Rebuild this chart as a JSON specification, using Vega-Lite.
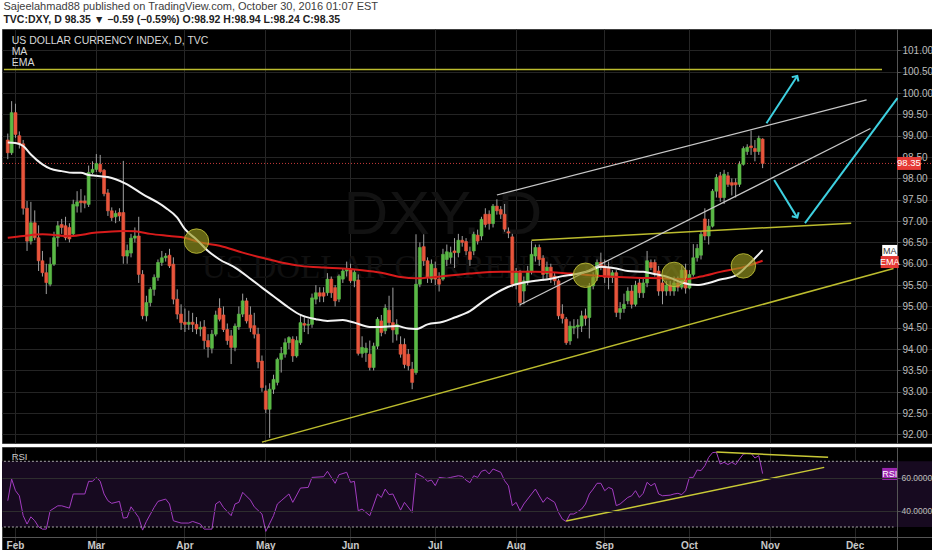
{
"$schema": "https://vega.github.io/schema/vega-lite/v6.json",
"background": "#ffffff",
"padding": {"left": 0, "top": 1, "right": 0, "bottom": 0},
"title": {"text": "Sajeelahmad88 published on TradingView.com, October 30, 2016 01:07 EST", "subtitle": "TVC:DXY, D  98.35 \u25bc \u22120.59 (\u22120.59%)  O:98.92  H:98.94  L:98.24  C:98.35", "anchor": "start", "dx": 3, "fontSize": 11, "fontWeight": "normal", "font": "Liberation Sans", "color": "#3d3d3d", "subtitleFontSize": 10.5, "subtitleFont": "Liberation Sans", "subtitleFontWeight": "bold", "subtitleColor": "#222222", "subtitlePadding": 3, "offset": 3},
"spacing": 0,
"datasets": {
"one": [{}],
"candles": [
{"date":"2016-01-28","open":98.90,"high":99.05,"low":98.45,"close":98.60},
{"date":"2016-01-29","open":98.60,"high":99.81,"low":98.55,"close":99.54},
{"date":"2016-02-01","open":99.54,"high":99.75,"low":98.95,"close":99.03},
{"date":"2016-02-02","open":99.00,"high":99.10,"low":98.70,"close":98.81},
{"date":"2016-02-03","open":98.81,"high":98.90,"low":97.15,"close":97.30},
{"date":"2016-02-04","open":97.30,"high":97.47,"low":96.30,"close":96.53},
{"date":"2016-02-05","open":96.53,"high":97.45,"low":96.45,"close":96.96},
{"date":"2016-02-08","open":96.96,"high":97.25,"low":96.55,"close":96.61},
{"date":"2016-02-09","open":96.61,"high":96.90,"low":95.83,"close":96.07},
{"date":"2016-02-10","open":96.07,"high":96.30,"low":95.70,"close":95.79},
{"date":"2016-02-11","open":95.79,"high":96.00,"low":95.29,"close":95.56},
{"date":"2016-02-12","open":95.52,"high":96.15,"low":95.47,"close":95.99},
{"date":"2016-02-15","open":95.99,"high":96.75,"low":95.95,"close":96.61},
{"date":"2016-02-16","open":96.61,"high":97.00,"low":96.40,"close":96.89},
{"date":"2016-02-17","open":96.92,"high":97.05,"low":96.70,"close":96.85},
{"date":"2016-02-18","open":96.89,"high":97.10,"low":96.55,"close":96.61},
{"date":"2016-02-19","open":96.85,"high":96.95,"low":96.50,"close":96.58},
{"date":"2016-02-22","open":96.70,"high":97.50,"low":96.65,"close":97.39},
{"date":"2016-02-23","open":97.35,"high":97.70,"low":97.20,"close":97.45},
{"date":"2016-02-24","open":97.47,"high":97.75,"low":97.20,"close":97.43},
{"date":"2016-02-25","open":97.47,"high":97.60,"low":97.30,"close":97.42},
{"date":"2016-02-26","open":97.39,"high":98.30,"low":97.33,"close":98.14},
{"date":"2016-02-29","open":98.14,"high":98.40,"low":98.10,"close":98.21},
{"date":"2016-03-01","open":98.21,"high":98.57,"low":98.15,"close":98.35},
{"date":"2016-03-02","open":98.33,"high":98.55,"low":98.12,"close":98.16},
{"date":"2016-03-03","open":98.19,"high":98.22,"low":97.58,"close":97.64},
{"date":"2016-03-04","open":97.66,"high":97.75,"low":97.12,"close":97.24},
{"date":"2016-03-07","open":97.24,"high":97.32,"low":97.00,"close":97.08},
{"date":"2016-03-08","open":97.10,"high":97.25,"low":96.95,"close":97.18},
{"date":"2016-03-09","open":97.20,"high":97.30,"low":97.00,"close":97.12},
{"date":"2016-03-10","open":97.20,"high":98.41,"low":96.00,"close":96.18},
{"date":"2016-03-11","open":96.18,"high":96.45,"low":96.00,"close":96.31},
{"date":"2016-03-14","open":96.25,"high":96.70,"low":96.15,"close":96.60},
{"date":"2016-03-15","open":96.60,"high":96.85,"low":96.50,"close":96.65},
{"date":"2016-03-16","open":96.65,"high":97.10,"low":95.55,"close":95.75},
{"date":"2016-03-17","open":95.75,"high":95.85,"low":94.70,"close":94.78},
{"date":"2016-03-18","open":94.78,"high":95.25,"low":94.65,"close":95.09},
{"date":"2016-03-21","open":95.09,"high":95.45,"low":95.00,"close":95.40},
{"date":"2016-03-22","open":95.40,"high":95.75,"low":95.25,"close":95.68},
{"date":"2016-03-23","open":95.68,"high":96.10,"low":95.60,"close":96.03},
{"date":"2016-03-24","open":96.03,"high":96.30,"low":95.95,"close":96.14},
{"date":"2016-03-25","open":96.14,"high":96.25,"low":96.05,"close":96.18},
{"date":"2016-03-28","open":96.20,"high":96.35,"low":95.90,"close":95.95},
{"date":"2016-03-29","open":95.99,"high":96.15,"low":95.05,"close":95.17},
{"date":"2016-03-30","open":95.17,"high":95.40,"low":94.70,"close":94.82},
{"date":"2016-03-31","open":94.82,"high":95.05,"low":94.45,"close":94.62},
{"date":"2016-04-01","open":94.63,"high":94.95,"low":94.40,"close":94.58},
{"date":"2016-04-04","open":94.58,"high":94.90,"low":94.45,"close":94.63},
{"date":"2016-04-05","open":94.63,"high":94.85,"low":94.40,"close":94.58},
{"date":"2016-04-06","open":94.58,"high":94.75,"low":94.35,"close":94.47},
{"date":"2016-04-07","open":94.47,"high":94.65,"low":94.30,"close":94.51},
{"date":"2016-04-08","open":94.52,"high":94.68,"low":94.00,"close":94.20},
{"date":"2016-04-11","open":94.20,"high":94.35,"low":93.80,"close":94.05},
{"date":"2016-04-12","open":94.02,"high":94.45,"low":93.90,"close":94.35},
{"date":"2016-04-13","open":94.35,"high":94.90,"low":94.30,"close":94.80},
{"date":"2016-04-14","open":94.96,"high":95.19,"low":94.65,"close":94.70},
{"date":"2016-04-15","open":94.80,"high":95.00,"low":94.40,"close":94.46},
{"date":"2016-04-18","open":94.46,"high":94.60,"low":94.10,"close":94.20},
{"date":"2016-04-19","open":94.31,"high":94.45,"low":93.65,"close":94.04},
{"date":"2016-04-20","open":94.04,"high":94.60,"low":93.95,"close":94.54},
{"date":"2016-04-21","open":94.52,"high":95.00,"low":94.45,"close":94.82},
{"date":"2016-04-22","open":94.82,"high":95.30,"low":94.75,"close":95.13},
{"date":"2016-04-25","open":95.13,"high":95.20,"low":94.60,"close":94.66},
{"date":"2016-04-26","open":94.80,"high":95.00,"low":94.40,"close":94.50},
{"date":"2016-04-27","open":94.55,"high":94.85,"low":94.25,"close":94.35},
{"date":"2016-04-28","open":94.35,"high":94.50,"low":93.55,"close":93.70},
{"date":"2016-04-29","open":93.72,"high":93.85,"low":93.00,"close":93.10},
{"date":"2016-05-02","open":93.02,"high":93.15,"low":92.50,"close":92.59},
{"date":"2016-05-03","open":92.59,"high":93.20,"low":91.92,"close":93.06},
{"date":"2016-05-04","open":93.06,"high":93.40,"low":92.95,"close":93.29},
{"date":"2016-05-05","open":93.22,"high":93.80,"low":93.15,"close":93.76},
{"date":"2016-05-06","open":93.76,"high":94.05,"low":93.45,"close":93.90},
{"date":"2016-05-09","open":93.88,"high":94.25,"low":93.80,"close":94.15},
{"date":"2016-05-10","open":94.15,"high":94.30,"low":94.00,"close":94.27},
{"date":"2016-05-11","open":94.23,"high":94.30,"low":93.70,"close":93.84},
{"date":"2016-05-12","open":93.84,"high":94.30,"low":93.80,"close":94.20},
{"date":"2016-05-13","open":94.15,"high":94.80,"low":94.10,"close":94.62},
{"date":"2016-05-16","open":94.60,"high":94.75,"low":94.40,"close":94.56},
{"date":"2016-05-17","open":94.56,"high":94.70,"low":94.35,"close":94.58},
{"date":"2016-05-18","open":94.58,"high":95.30,"low":94.50,"close":95.20},
{"date":"2016-05-19","open":95.17,"high":95.50,"low":95.05,"close":95.32},
{"date":"2016-05-20","open":95.32,"high":95.45,"low":95.10,"close":95.24},
{"date":"2016-05-23","open":95.32,"high":95.45,"low":95.10,"close":95.24},
{"date":"2016-05-24","open":95.32,"high":95.78,"low":95.25,"close":95.64},
{"date":"2016-05-25","open":95.64,"high":95.70,"low":95.20,"close":95.32},
{"date":"2016-05-26","open":95.44,"high":95.50,"low":95.00,"close":95.13},
{"date":"2016-05-27","open":95.17,"high":95.75,"low":95.10,"close":95.71},
{"date":"2016-05-30","open":95.64,"high":95.90,"low":95.55,"close":95.83},
{"date":"2016-05-31","open":95.83,"high":96.05,"low":95.70,"close":95.87},
{"date":"2016-06-01","open":95.87,"high":96.00,"low":95.55,"close":95.60},
{"date":"2016-06-02","open":95.60,"high":95.85,"low":95.45,"close":95.80},
{"date":"2016-06-03","open":95.62,"high":95.75,"low":93.85,"close":93.90},
{"date":"2016-06-06","open":93.90,"high":94.30,"low":93.80,"close":94.04},
{"date":"2016-06-07","open":93.92,"high":94.15,"low":93.70,"close":94.02},
{"date":"2016-06-08","open":93.88,"high":94.20,"low":93.50,"close":93.57},
{"date":"2016-06-09","open":93.57,"high":94.15,"low":93.50,"close":94.07},
{"date":"2016-06-10","open":94.07,"high":94.75,"low":94.00,"close":94.70},
{"date":"2016-06-13","open":94.66,"high":94.80,"low":94.30,"close":94.39},
{"date":"2016-06-14","open":94.43,"high":95.05,"low":94.35,"close":94.96},
{"date":"2016-06-15","open":94.91,"high":95.25,"low":94.55,"close":94.62},
{"date":"2016-06-16","open":94.62,"high":95.44,"low":94.15,"close":94.45},
{"date":"2016-06-17","open":94.35,"high":94.70,"low":94.20,"close":94.58},
{"date":"2016-06-20","open":94.11,"high":94.30,"low":93.80,"close":93.88},
{"date":"2016-06-21","open":94.11,"high":94.25,"low":93.55,"close":93.64},
{"date":"2016-06-22","open":93.88,"high":94.00,"low":93.50,"close":93.61},
{"date":"2016-06-23","open":93.53,"high":93.70,"low":93.06,"close":93.22},
{"date":"2016-06-24","open":93.45,"high":96.69,"low":93.40,"close":95.52},
{"date":"2016-06-27","open":95.52,"high":96.50,"low":95.45,"close":96.38},
{"date":"2016-06-28","open":96.40,"high":96.69,"low":95.95,"close":96.07},
{"date":"2016-06-29","open":96.07,"high":96.15,"low":95.55,"close":95.68},
{"date":"2016-06-30","open":95.64,"high":96.10,"low":95.55,"close":95.99},
{"date":"2016-07-01","open":95.89,"high":96.05,"low":95.50,"close":95.64},
{"date":"2016-07-04","open":95.64,"high":95.80,"low":95.35,"close":95.52},
{"date":"2016-07-05","open":95.64,"high":96.35,"low":95.60,"close":96.22},
{"date":"2016-07-06","open":96.10,"high":96.45,"low":95.95,"close":96.28},
{"date":"2016-07-07","open":96.15,"high":96.40,"low":96.00,"close":96.26},
{"date":"2016-07-08","open":96.30,"high":96.60,"low":95.90,"close":96.26},
{"date":"2016-07-11","open":96.26,"high":96.70,"low":96.15,"close":96.55},
{"date":"2016-07-12","open":96.55,"high":96.65,"low":96.40,"close":96.50},
{"date":"2016-07-13","open":96.52,"high":96.60,"low":96.20,"close":96.30},
{"date":"2016-07-14","open":96.28,"high":96.40,"low":95.95,"close":96.10},
{"date":"2016-07-15","open":96.30,"high":96.75,"low":96.20,"close":96.69},
{"date":"2016-07-18","open":96.67,"high":96.80,"low":96.45,"close":96.53},
{"date":"2016-07-19","open":96.65,"high":97.10,"low":96.55,"close":97.04},
{"date":"2016-07-20","open":97.16,"high":97.30,"low":96.85,"close":96.92},
{"date":"2016-07-21","open":97.16,"high":97.25,"low":96.80,"close":96.94},
{"date":"2016-07-22","open":96.94,"high":97.40,"low":96.85,"close":97.35},
{"date":"2016-07-25","open":97.35,"high":97.51,"low":97.15,"close":97.24},
{"date":"2016-07-26","open":97.27,"high":97.35,"low":97.05,"close":97.16},
{"date":"2016-07-27","open":97.16,"high":97.40,"low":96.75,"close":96.81},
{"date":"2016-07-28","open":96.75,"high":96.85,"low":96.60,"close":96.72},
{"date":"2016-07-29","open":96.63,"high":96.70,"low":95.45,"close":95.52},
{"date":"2016-08-01","open":95.52,"high":95.90,"low":95.40,"close":95.79},
{"date":"2016-08-02","open":95.79,"high":95.85,"low":95.00,"close":95.09},
{"date":"2016-08-03","open":95.36,"high":95.70,"low":95.05,"close":95.60},
{"date":"2016-08-04","open":95.60,"high":95.95,"low":95.50,"close":95.83},
{"date":"2016-08-05","open":95.83,"high":96.53,"low":95.75,"close":96.22},
{"date":"2016-08-08","open":96.18,"high":96.45,"low":96.05,"close":96.38},
{"date":"2016-08-09","open":96.38,"high":96.45,"low":95.95,"close":96.10},
{"date":"2016-08-10","open":96.13,"high":96.20,"low":95.60,"close":95.75},
{"date":"2016-08-11","open":95.77,"high":96.05,"low":95.65,"close":95.92},
{"date":"2016-08-12","open":95.92,"high":96.00,"low":95.55,"close":95.68},
{"date":"2016-08-15","open":95.71,"high":95.80,"low":95.50,"close":95.60},
{"date":"2016-08-16","open":95.60,"high":95.65,"low":94.70,"close":94.78},
{"date":"2016-08-17","open":94.82,"high":95.05,"low":94.60,"close":94.72},
{"date":"2016-08-18","open":94.70,"high":94.75,"low":94.10,"close":94.15},
{"date":"2016-08-19","open":94.19,"high":94.65,"low":94.10,"close":94.54},
{"date":"2016-08-22","open":94.50,"high":94.70,"low":94.35,"close":94.53},
{"date":"2016-08-23","open":94.52,"high":94.70,"low":94.25,"close":94.56},
{"date":"2016-08-24","open":94.54,"high":94.90,"low":94.40,"close":94.78},
{"date":"2016-08-25","open":94.78,"high":94.95,"low":94.55,"close":94.72},
{"date":"2016-08-26","open":94.74,"high":95.55,"low":94.25,"close":95.48},
{"date":"2016-08-29","open":95.48,"high":95.80,"low":95.40,"close":95.68},
{"date":"2016-08-30","open":95.68,"high":96.10,"low":95.60,"close":96.03},
{"date":"2016-08-31","open":96.03,"high":96.26,"low":95.85,"close":95.91},
{"date":"2016-09-01","open":95.95,"high":96.10,"low":95.55,"close":95.68},
{"date":"2016-09-02","open":95.91,"high":96.05,"low":95.40,"close":95.68},
{"date":"2016-09-05","open":95.68,"high":95.85,"low":95.55,"close":95.79},
{"date":"2016-09-06","open":95.79,"high":95.85,"low":94.75,"close":94.86},
{"date":"2016-09-07","open":94.86,"high":95.10,"low":94.70,"close":94.95},
{"date":"2016-09-08","open":94.95,"high":95.30,"low":94.85,"close":95.05},
{"date":"2016-09-09","open":95.13,"high":95.45,"low":95.05,"close":95.36},
{"date":"2016-09-12","open":95.36,"high":95.50,"low":94.95,"close":95.05},
{"date":"2016-09-13","open":95.05,"high":95.60,"low":95.00,"close":95.50},
{"date":"2016-09-14","open":95.55,"high":95.65,"low":95.20,"close":95.32},
{"date":"2016-09-15","open":95.32,"high":95.65,"low":95.20,"close":95.55},
{"date":"2016-09-16","open":95.55,"high":96.30,"low":95.45,"close":96.07},
{"date":"2016-09-19","open":96.03,"high":96.10,"low":95.85,"close":95.91},
{"date":"2016-09-20","open":96.03,"high":96.10,"low":95.70,"close":95.79},
{"date":"2016-09-21","open":95.83,"high":95.95,"low":95.25,"close":95.36},
{"date":"2016-09-22","open":95.55,"high":95.65,"low":95.05,"close":95.36},
{"date":"2016-09-23","open":95.36,"high":95.60,"low":95.25,"close":95.50},
{"date":"2016-09-26","open":95.50,"high":95.60,"low":95.25,"close":95.36},
{"date":"2016-09-27","open":95.36,"high":95.70,"low":95.25,"close":95.55},
{"date":"2016-09-28","open":95.55,"high":95.70,"low":95.35,"close":95.45},
{"date":"2016-09-29","open":95.45,"high":95.95,"low":95.40,"close":95.85},
{"date":"2016-09-30","open":95.85,"high":96.00,"low":95.30,"close":95.43},
{"date":"2016-10-03","open":95.43,"high":95.85,"low":95.40,"close":95.75},
{"date":"2016-10-04","open":95.75,"high":96.46,"low":95.70,"close":96.14},
{"date":"2016-10-05","open":96.14,"high":96.46,"low":96.05,"close":96.36},
{"date":"2016-10-06","open":96.20,"high":96.75,"low":96.10,"close":96.69},
{"date":"2016-10-07","open":97.05,"high":97.30,"low":96.55,"close":96.65},
{"date":"2016-10-10","open":96.65,"high":97.05,"low":96.45,"close":96.88},
{"date":"2016-10-11","open":96.88,"high":97.75,"low":96.85,"close":97.70},
{"date":"2016-10-12","open":97.70,"high":98.10,"low":97.55,"close":98.02},
{"date":"2016-10-13","open":98.06,"high":98.15,"low":97.45,"close":97.55},
{"date":"2016-10-14","open":97.55,"high":98.20,"low":97.40,"close":98.10},
{"date":"2016-10-17","open":98.06,"high":98.15,"low":97.80,"close":97.86},
{"date":"2016-10-18","open":97.90,"high":98.00,"low":97.60,"close":97.84},
{"date":"2016-10-19","open":97.90,"high":98.00,"low":97.55,"close":97.85},
{"date":"2016-10-20","open":97.86,"high":98.40,"low":97.80,"close":98.33},
{"date":"2016-10-21","open":98.33,"high":98.75,"low":98.30,"close":98.70},
{"date":"2016-10-24","open":98.63,"high":98.80,"low":98.55,"close":98.73},
{"date":"2016-10-25","open":98.76,"high":99.12,"low":98.55,"close":98.72},
{"date":"2016-10-26","open":98.70,"high":98.90,"low":98.40,"close":98.63},
{"date":"2016-10-27","open":98.63,"high":99.00,"low":98.55,"close":98.94},
{"date":"2016-10-28","open":98.92,"high":98.94,"low":98.24,"close":98.35}
],
"ma": [
{"date":"2016-01-28","ma":98.84},{"date":"2016-02-01","ma":98.83},{"date":"2016-02-03","ma":98.76},{"date":"2016-02-05","ma":98.56},{"date":"2016-02-10","ma":98.33},{"date":"2016-02-12","ma":98.23},{"date":"2016-02-17","ma":98.17},{"date":"2016-02-22","ma":98.13},{"date":"2016-02-24","ma":98.13},{"date":"2016-02-26","ma":98.08},{"date":"2016-03-01","ma":98.06},{"date":"2016-03-04","ma":98.03},{"date":"2016-03-08","ma":97.98},{"date":"2016-03-11","ma":97.86},{"date":"2016-03-17","ma":97.63},{"date":"2016-03-23","ma":97.43},{"date":"2016-03-25","ma":97.31},{"date":"2016-03-30","ma":97.08},{"date":"2016-04-01","ma":96.81},{"date":"2016-04-06","ma":96.57},{"date":"2016-04-11","ma":96.30},{"date":"2016-04-14","ma":96.10},{"date":"2016-04-20","ma":95.91},{"date":"2016-04-26","ma":95.65},{"date":"2016-04-29","ma":95.44},{"date":"2016-05-04","ma":95.24},{"date":"2016-05-10","ma":94.97},{"date":"2016-05-13","ma":94.80},{"date":"2016-05-19","ma":94.70},{"date":"2016-05-24","ma":94.66},{"date":"2016-05-30","ma":94.68},{"date":"2016-06-02","ma":94.62},{"date":"2016-06-08","ma":94.52},{"date":"2016-06-13","ma":94.52},{"date":"2016-06-17","ma":94.54},{"date":"2016-06-22","ma":94.48},{"date":"2016-06-24","ma":94.47},{"date":"2016-06-29","ma":94.58},{"date":"2016-07-05","ma":94.64},{"date":"2016-07-08","ma":94.74},{"date":"2016-07-14","ma":94.89},{"date":"2016-07-19","ma":95.09},{"date":"2016-07-22","ma":95.27},{"date":"2016-07-28","ma":95.46},{"date":"2016-08-03","ma":95.56},{"date":"2016-08-08","ma":95.60},{"date":"2016-08-12","ma":95.65},{"date":"2016-08-17","ma":95.71},{"date":"2016-08-22","ma":95.75},{"date":"2016-08-26","ma":95.83},{"date":"2016-08-31","ma":95.93},{"date":"2016-09-06","ma":95.89},{"date":"2016-09-09","ma":95.83},{"date":"2016-09-15","ma":95.81},{"date":"2016-09-20","ma":95.76},{"date":"2016-09-26","ma":95.67},{"date":"2016-09-29","ma":95.56},{"date":"2016-10-05","ma":95.50},{"date":"2016-10-10","ma":95.55},{"date":"2016-10-13","ma":95.63},{"date":"2016-10-19","ma":95.72},{"date":"2016-10-24","ma":95.95},{"date":"2016-10-28","ma":96.32}
],
"ema": [
{"date":"2016-01-28","ema":96.61},{"date":"2016-02-03","ema":96.65},{"date":"2016-02-10","ema":96.69},{"date":"2016-02-19","ema":96.65},{"date":"2016-03-01","ema":96.73},{"date":"2016-03-10","ema":96.77},{"date":"2016-03-15","ema":96.76},{"date":"2016-03-21","ema":96.70},{"date":"2016-03-28","ema":96.65},{"date":"2016-04-01","ema":96.61},{"date":"2016-04-07","ema":96.50},{"date":"2016-04-14","ema":96.42},{"date":"2016-04-22","ema":96.26},{"date":"2016-04-29","ema":96.14},{"date":"2016-05-06","ema":96.03},{"date":"2016-05-13","ema":95.95},{"date":"2016-05-23","ema":95.91},{"date":"2016-05-30","ema":95.89},{"date":"2016-06-06","ema":95.85},{"date":"2016-06-13","ema":95.79},{"date":"2016-06-20","ema":95.69},{"date":"2016-06-24","ema":95.66},{"date":"2016-07-01","ema":95.69},{"date":"2016-07-14","ema":95.77},{"date":"2016-07-26","ema":95.81},{"date":"2016-08-08","ema":95.81},{"date":"2016-08-19","ema":95.77},{"date":"2016-08-31","ema":95.71},{"date":"2016-09-13","ema":95.67},{"date":"2016-09-22","ema":95.66},{"date":"2016-09-30","ema":95.64},{"date":"2016-10-06","ema":95.70},{"date":"2016-10-13","ema":95.81},{"date":"2016-10-21","ema":95.92},{"date":"2016-10-28","ema":96.07}
],
"rsi": [
{"date":"2016-01-28","rsi":46.0},{"date":"2016-01-29","rsi":59.2},{"date":"2016-02-01","rsi":52.1},{"date":"2016-02-02","rsi":49.0},{"date":"2016-02-03","rsi":36.9},{"date":"2016-02-04","rsi":31.8},{"date":"2016-02-05","rsi":36.2},{"date":"2016-02-08","rsi":33.8},{"date":"2016-02-09","rsi":30.1},{"date":"2016-02-10","rsi":28.7},{"date":"2016-02-11","rsi":28.7},{"date":"2016-02-12","rsi":39.9},{"date":"2016-02-16","rsi":42.9},{"date":"2016-02-17","rsi":42.9},{"date":"2016-02-19","rsi":41.5},{"date":"2016-02-22","rsi":50.1},{"date":"2016-02-25","rsi":50.1},{"date":"2016-02-26","rsi":57.8},{"date":"2016-02-29","rsi":57.8},{"date":"2016-03-01","rsi":60.2},{"date":"2016-03-02","rsi":57.8},{"date":"2016-03-03","rsi":50.1},{"date":"2016-03-04","rsi":46.0},{"date":"2016-03-07","rsi":44.4},{"date":"2016-03-09","rsi":45.6},{"date":"2016-03-10","rsi":35.4},{"date":"2016-03-11","rsi":35.8},{"date":"2016-03-14","rsi":42.3},{"date":"2016-03-16","rsi":35.8},{"date":"2016-03-17","rsi":28.1},{"date":"2016-03-18","rsi":33.4},{"date":"2016-03-22","rsi":41.9},{"date":"2016-03-23","rsi":45.6},{"date":"2016-03-25","rsi":47.0},{"date":"2016-03-28","rsi":44.0},{"date":"2016-03-29","rsi":33.8},{"date":"2016-03-31","rsi":32.4},{"date":"2016-04-04","rsi":32.4},{"date":"2016-04-05","rsi":33.4},{"date":"2016-04-07","rsi":31.8},{"date":"2016-04-08","rsi":28.7},{"date":"2016-04-12","rsi":28.7},{"date":"2016-04-13","rsi":44.0},{"date":"2016-04-14","rsi":45.6},{"date":"2016-04-15","rsi":41.9},{"date":"2016-04-19","rsi":36.9},{"date":"2016-04-20","rsi":44.0},{"date":"2016-04-21","rsi":45.0},{"date":"2016-04-22","rsi":51.1},{"date":"2016-04-26","rsi":46.4},{"date":"2016-04-27","rsi":42.3},{"date":"2016-04-29","rsi":37.9},{"date":"2016-05-02","rsi":27.3},{"date":"2016-05-04","rsi":36.9},{"date":"2016-05-05","rsi":44.0},{"date":"2016-05-06","rsi":46.0},{"date":"2016-05-10","rsi":50.1},{"date":"2016-05-11","rsi":45.0},{"date":"2016-05-13","rsi":53.7},{"date":"2016-05-17","rsi":54.1},{"date":"2016-05-18","rsi":60.2},{"date":"2016-05-23","rsi":60.6},{"date":"2016-05-24","rsi":63.9},{"date":"2016-05-26","rsi":56.6},{"date":"2016-05-27","rsi":61.8},{"date":"2016-05-31","rsi":63.3},{"date":"2016-06-01","rsi":57.2},{"date":"2016-06-02","rsi":57.8},{"date":"2016-06-03","rsi":39.9},{"date":"2016-06-06","rsi":40.9},{"date":"2016-06-08","rsi":36.9},{"date":"2016-06-10","rsi":50.1},{"date":"2016-06-13","rsi":48.0},{"date":"2016-06-14","rsi":53.1},{"date":"2016-06-15","rsi":49.7},{"date":"2016-06-16","rsi":50.1},{"date":"2016-06-20","rsi":40.3},{"date":"2016-06-21","rsi":45.0},{"date":"2016-06-23","rsi":38.9},{"date":"2016-06-24","rsi":62.7},{"date":"2016-06-28","rsi":60.2},{"date":"2016-06-29","rsi":57.8},{"date":"2016-06-30","rsi":58.6},{"date":"2016-07-01","rsi":55.2},{"date":"2016-07-04","rsi":60.2},{"date":"2016-07-06","rsi":59.6},{"date":"2016-07-07","rsi":60.2},{"date":"2016-07-11","rsi":61.2},{"date":"2016-07-12","rsi":60.8},{"date":"2016-07-13","rsi":58.5},{"date":"2016-07-14","rsi":57.0},{"date":"2016-07-15","rsi":61.2},{"date":"2016-07-18","rsi":60.2},{"date":"2016-07-19","rsi":63.9},{"date":"2016-07-20","rsi":64.7},{"date":"2016-07-21","rsi":62.3},{"date":"2016-07-22","rsi":65.3},{"date":"2016-07-26","rsi":63.3},{"date":"2016-07-27","rsi":58.2},{"date":"2016-07-28","rsi":55.1},{"date":"2016-07-29","rsi":43.0},{"date":"2016-08-01","rsi":45.0},{"date":"2016-08-02","rsi":39.9},{"date":"2016-08-03","rsi":44.0},{"date":"2016-08-05","rsi":50.1},{"date":"2016-08-08","rsi":53.1},{"date":"2016-08-09","rsi":49.0},{"date":"2016-08-10","rsi":45.0},{"date":"2016-08-11","rsi":48.0},{"date":"2016-08-15","rsi":45.0},{"date":"2016-08-16","rsi":38.9},{"date":"2016-08-17","rsi":34.8},{"date":"2016-08-18","rsi":33.4},{"date":"2016-08-19","rsi":37.9},{"date":"2016-08-22","rsi":37.9},{"date":"2016-08-24","rsi":40.9},{"date":"2016-08-25","rsi":44.0},{"date":"2016-08-26","rsi":50.1},{"date":"2016-08-29","rsi":53.1},{"date":"2016-08-30","rsi":56.6},{"date":"2016-08-31","rsi":56.6},{"date":"2016-09-01","rsi":52.1},{"date":"2016-09-02","rsi":54.1},{"date":"2016-09-05","rsi":53.1},{"date":"2016-09-06","rsi":43.0},{"date":"2016-09-07","rsi":44.0},{"date":"2016-09-09","rsi":48.0},{"date":"2016-09-12","rsi":49.0},{"date":"2016-09-13","rsi":52.1},{"date":"2016-09-14","rsi":48.0},{"date":"2016-09-15","rsi":50.5},{"date":"2016-09-16","rsi":57.2},{"date":"2016-09-19","rsi":55.1},{"date":"2016-09-20","rsi":56.6},{"date":"2016-09-21","rsi":50.1},{"date":"2016-09-22","rsi":49.0},{"date":"2016-09-26","rsi":49.4},{"date":"2016-09-27","rsi":50.1},{"date":"2016-09-28","rsi":50.5},{"date":"2016-09-29","rsi":49.7},{"date":"2016-09-30","rsi":52.1},{"date":"2016-10-03","rsi":60.2},{"date":"2016-10-04","rsi":60.2},{"date":"2016-10-05","rsi":64.7},{"date":"2016-10-06","rsi":64.3},{"date":"2016-10-07","rsi":67.3},{"date":"2016-10-10","rsi":72.4},{"date":"2016-10-11","rsi":75.3},{"date":"2016-10-12","rsi":75.5},{"date":"2016-10-13","rsi":68.3},{"date":"2016-10-14","rsi":69.4},{"date":"2016-10-17","rsi":68.0},{"date":"2016-10-18","rsi":69.4},{"date":"2016-10-19","rsi":68.0},{"date":"2016-10-20","rsi":71.4},{"date":"2016-10-21","rsi":74.4},{"date":"2016-10-24","rsi":74.8},{"date":"2016-10-25","rsi":74.9},{"date":"2016-10-26","rsi":72.0},{"date":"2016-10-27","rsi":73.4},{"date":"2016-10-28","rsi":62.5}
],
"yellowLines": [
{"id":"top","date":"2016-01-27","price":100.55},{"id":"top","date":"2016-12-12","price":100.55},
{"id":"support","date":"2016-04-29","price":91.82},{"id":"support","date":"2016-12-15","price":95.89},
{"id":"mid","date":"2016-08-05","price":96.55},{"id":"mid","date":"2016-11-30","price":96.95}
],
"whiteLines": [
{"id":"upper","date":"2016-07-25","price":97.61},{"id":"upper","date":"2016-12-06","price":99.84},
{"id":"lower","date":"2016-08-02","price":95.04},{"id":"lower","date":"2016-12-07","price":99.17}
],
"cyanLines": [
{"id":"a","date":"2016-10-31","price":99.29},{"id":"a","date":"2016-11-10","price":100.40},
{"id":"b","date":"2016-11-02","price":97.96},{"id":"b","date":"2016-11-10","price":97.08},
{"id":"c","date":"2016-11-14","price":96.95},{"id":"c","date":"2016-12-16","price":99.88}
],
"arrowHeads": [
{"date":"2016-11-10","price":100.40,"dir":"up"},
{"date":"2016-11-10","price":97.08,"dir":"down"}
],
"circles": [
{"date":"2016-04-06","price":96.53},
{"date":"2016-08-25","price":95.73},
{"date":"2016-09-27","price":95.75},
{"date":"2016-10-21","price":95.95}
],
"rsiLines": [
{"id":"a","date":"2016-08-18","rsi":33.6},{"id":"a","date":"2016-11-21","rsi":66.3},
{"id":"b","date":"2016-10-12","rsi":75.7},{"id":"b","date":"2016-11-22","rsi":72.4}
]
},
"vconcat": [
{
"width": 932,
"height": 414,
"layer": [
{"data": {"name": "one"},
 "mark": {"type": "text", "fontSize": 62, "font": "Liberation Sans", "color": "#121212", "align": "center", "baseline": "middle"},
 "encoding": {"x": {"datum": "2016-07-05", "type": "ordinal"}, "y": {"datum": 97.15, "type": "quantitative"}, "text": {"value": "DXY, D"}}},
{"data": {"name": "one"},
 "mark": {"type": "text", "fontSize": 33, "font": "Liberation Serif", "color": "#101010", "align": "center", "baseline": "middle"},
 "encoding": {"x": {"datum": "2016-07-05", "type": "ordinal"}, "y": {"datum": 95.9, "type": "quantitative"}, "text": {"value": "US DOLLAR CURRENCY INDEX"}}},
{"data": {"name": "one"},
 "mark": {"type": "rule", "color": "#c43a3a", "strokeDash": [1, 2], "strokeWidth": 1},
 "encoding": {"y": {"datum": 98.35, "type": "quantitative"}}},
{"data": {"name": "candles"},
 "mark": {"type": "rule", "color": "#a0a0a0", "strokeWidth": 1},
 "encoding": {
  "x": {"field": "date", "type": "ordinal",
   "scale": {"type": "band", "paddingInner": 0, "paddingOuter": 0, "domain": ["2016-01-27","2016-01-28","2016-01-29","2016-02-01","2016-02-02","2016-02-03","2016-02-04","2016-02-05","2016-02-08","2016-02-09","2016-02-10","2016-02-11","2016-02-12","2016-02-15","2016-02-16","2016-02-17","2016-02-18","2016-02-19","2016-02-22","2016-02-23","2016-02-24","2016-02-25","2016-02-26","2016-02-29","2016-03-01","2016-03-02","2016-03-03","2016-03-04","2016-03-07","2016-03-08","2016-03-09","2016-03-10","2016-03-11","2016-03-14","2016-03-15","2016-03-16","2016-03-17","2016-03-18","2016-03-21","2016-03-22","2016-03-23","2016-03-24","2016-03-25","2016-03-28","2016-03-29","2016-03-30","2016-03-31","2016-04-01","2016-04-04","2016-04-05","2016-04-06","2016-04-07","2016-04-08","2016-04-11","2016-04-12","2016-04-13","2016-04-14","2016-04-15","2016-04-18","2016-04-19","2016-04-20","2016-04-21","2016-04-22","2016-04-25","2016-04-26","2016-04-27","2016-04-28","2016-04-29","2016-05-02","2016-05-03","2016-05-04","2016-05-05","2016-05-06","2016-05-09","2016-05-10","2016-05-11","2016-05-12","2016-05-13","2016-05-16","2016-05-17","2016-05-18","2016-05-19","2016-05-20","2016-05-23","2016-05-24","2016-05-25","2016-05-26","2016-05-27","2016-05-30","2016-05-31","2016-06-01","2016-06-02","2016-06-03","2016-06-06","2016-06-07","2016-06-08","2016-06-09","2016-06-10","2016-06-13","2016-06-14","2016-06-15","2016-06-16","2016-06-17","2016-06-20","2016-06-21","2016-06-22","2016-06-23","2016-06-24","2016-06-27","2016-06-28","2016-06-29","2016-06-30","2016-07-01","2016-07-04","2016-07-05","2016-07-06","2016-07-07","2016-07-08","2016-07-11","2016-07-12","2016-07-13","2016-07-14","2016-07-15","2016-07-18","2016-07-19","2016-07-20","2016-07-21","2016-07-22","2016-07-25","2016-07-26","2016-07-27","2016-07-28","2016-07-29","2016-08-01","2016-08-02","2016-08-03","2016-08-04","2016-08-05","2016-08-08","2016-08-09","2016-08-10","2016-08-11","2016-08-12","2016-08-15","2016-08-16","2016-08-17","2016-08-18","2016-08-19","2016-08-22","2016-08-23","2016-08-24","2016-08-25","2016-08-26","2016-08-29","2016-08-30","2016-08-31","2016-09-01","2016-09-02","2016-09-05","2016-09-06","2016-09-07","2016-09-08","2016-09-09","2016-09-12","2016-09-13","2016-09-14","2016-09-15","2016-09-16","2016-09-19","2016-09-20","2016-09-21","2016-09-22","2016-09-23","2016-09-26","2016-09-27","2016-09-28","2016-09-29","2016-09-30","2016-10-03","2016-10-04","2016-10-05","2016-10-06","2016-10-07","2016-10-10","2016-10-11","2016-10-12","2016-10-13","2016-10-14","2016-10-17","2016-10-18","2016-10-19","2016-10-20","2016-10-21","2016-10-24","2016-10-25","2016-10-26","2016-10-27","2016-10-28","2016-10-31","2016-11-01","2016-11-02","2016-11-03","2016-11-04","2016-11-07","2016-11-08","2016-11-09","2016-11-10","2016-11-11","2016-11-14","2016-11-15","2016-11-16","2016-11-17","2016-11-18","2016-11-21","2016-11-22","2016-11-23","2016-11-24","2016-11-25","2016-11-28","2016-11-29","2016-11-30","2016-12-01","2016-12-02","2016-12-05","2016-12-06","2016-12-07","2016-12-08","2016-12-09","2016-12-12","2016-12-13","2016-12-14","2016-12-15","2016-12-16","2016-12-19","2016-12-20","2016-12-21","2016-12-22","2016-12-23","2016-12-26","2016-12-27","2016-12-28","2016-12-29"]},
   "axis": {"values": ["2016-02-01","2016-03-01","2016-04-01","2016-05-02","2016-06-01","2016-07-01","2016-08-01","2016-09-01","2016-10-03","2016-11-01","2016-12-01"], "labels": false, "ticks": false, "domain": false, "grid": true, "gridColor": "#262626", "bandPosition": 0.5, "title": null, "minExtent": 0, "maxExtent": 0}},
  "y": {"field": "low", "type": "quantitative",
   "scale": {"domain": [91.8, 101.5], "nice": false, "zero": false},
   "axis": {"orient": "right", "offset": -37, "values": [92,92.5,93,93.5,94,94.5,95,95.5,96,96.5,97,97.5,98,98.5,99,99.5,100,100.5,101], "tickCount": 20, "format": ".2f", "labelOverlap": false, "labelColor": "#bdbdbd", "labelFontSize": 10, "labelFont": "Liberation Sans", "labelPadding": 2, "tickColor": "#555555", "tickSize": 3, "domainColor": "#555555", "grid": true, "gridColor": "#242424", "title": null}},
  "y2": {"field": "high"}}},
{"data": {"name": "candles"},
 "mark": {"type": "bar", "size": 3, "strokeWidth": 0.6},
 "encoding": {
  "x": {"field": "date", "type": "ordinal"},
  "y": {"field": "open", "type": "quantitative"},
  "y2": {"field": "close"},
  "color": {"condition": {"test": "datum.close < datum.open", "value": "#e8553c"}, "value": "#5ab946"},
  "stroke": {"condition": {"test": "datum.close < datum.open", "value": "#e8553c"}, "value": "#5ab946"}}},
{"data": {"name": "ema"},
 "mark": {"type": "line", "color": "#d81b1b", "strokeWidth": 2, "interpolate": "monotone"},
 "encoding": {"x": {"field": "date", "type": "ordinal"}, "y": {"field": "ema", "type": "quantitative"}}},
{"data": {"name": "ma"},
 "mark": {"type": "line", "color": "#f2f2f2", "strokeWidth": 2, "interpolate": "monotone"},
 "encoding": {"x": {"field": "date", "type": "ordinal"}, "y": {"field": "ma", "type": "quantitative"}}},
{"data": {"name": "yellowLines"},
 "mark": {"type": "line", "color": "#bcbc2e", "strokeWidth": 1.5},
 "encoding": {"x": {"field": "date", "type": "ordinal"}, "y": {"field": "price", "type": "quantitative"}, "detail": {"field": "id", "type": "nominal"}}},
{"data": {"name": "whiteLines"},
 "mark": {"type": "line", "color": "#c8c8c8", "strokeWidth": 1.2},
 "encoding": {"x": {"field": "date", "type": "ordinal"}, "y": {"field": "price", "type": "quantitative"}, "detail": {"field": "id", "type": "nominal"}}},
{"data": {"name": "cyanLines"},
 "mark": {"type": "line", "color": "#3ed0e0", "strokeWidth": 2},
 "encoding": {"x": {"field": "date", "type": "ordinal"}, "y": {"field": "price", "type": "quantitative"}, "detail": {"field": "id", "type": "nominal"}}},
{"data": {"name": "arrowHeads"},
 "mark": {"type": "point", "shape": "M-0.8,0.8L0,0L0.8,0.8", "filled": false, "size": 100, "stroke": "#3ed0e0", "strokeWidth": 2, "opacity": 1},
 "encoding": {"x": {"field": "date", "type": "ordinal"}, "y": {"field": "price", "type": "quantitative"}, "angle": {"condition": {"test": "datum.dir === 'up'", "value": 33}, "value": 149}}},
{"data": {"name": "circles"},
 "mark": {"type": "point", "shape": "circle", "filled": true, "size": 600, "fill": "#9a9a1e", "fillOpacity": 0.65, "stroke": "#c8c83c", "strokeOpacity": 0.8, "strokeWidth": 1},
 "encoding": {"x": {"field": "date", "type": "ordinal"}, "y": {"field": "price", "type": "quantitative"}}},
{"data": {"name": "one"},
 "mark": {"type": "text", "fontSize": 10.5, "font": "Liberation Sans", "color": "#d8d8d8", "align": "left", "baseline": "middle"},
 "encoding": {"x": {"datum": "2016-01-29", "type": "ordinal"}, "y": {"datum": 101.22, "type": "quantitative"}, "text": {"value": "US DOLLAR CURRENCY INDEX, D, TVC"}}},
{"data": {"name": "one"},
 "mark": {"type": "text", "fontSize": 10.5, "font": "Liberation Sans", "color": "#d8d8d8", "align": "left", "baseline": "middle"},
 "encoding": {"x": {"datum": "2016-01-29", "type": "ordinal"}, "y": {"datum": 100.96, "type": "quantitative"}, "text": {"value": "MA"}}},
{"data": {"name": "one"},
 "mark": {"type": "text", "fontSize": 10.5, "font": "Liberation Sans", "color": "#d8d8d8", "align": "left", "baseline": "middle"},
 "encoding": {"x": {"datum": "2016-01-29", "type": "ordinal"}, "y": {"datum": 100.70, "type": "quantitative"}, "text": {"value": "EMA"}}},
{"data": {"name": "one"},
 "mark": {"type": "point", "shape": "M-1.2,-0.65L1.2,-0.65L1.2,0.65L-1.2,0.65Z", "filled": true, "size": 400, "fill": "#e53935", "opacity": 1, "strokeWidth": 0},
 "encoding": {"x": {"datum": "2016-12-21", "type": "ordinal"}, "y": {"datum": 98.35, "type": "quantitative"}}},
{"data": {"name": "one"},
 "mark": {"type": "text", "fontSize": 9.5, "font": "Liberation Sans", "color": "#ffffff", "align": "center", "baseline": "middle"},
 "encoding": {"x": {"datum": "2016-12-21", "type": "ordinal"}, "y": {"datum": 98.35, "type": "quantitative"}, "text": {"value": "98.35"}}},
{"data": {"name": "one"},
 "mark": {"type": "point", "shape": "M-0.75,-0.6L0.75,-0.6L0.75,0.6L-0.75,0.6Z", "filled": true, "size": 400, "fill": "#ffffff", "opacity": 1, "strokeWidth": 0},
 "encoding": {"x": {"datum": "2016-12-14", "type": "ordinal"}, "y": {"datum": 96.30, "type": "quantitative"}}},
{"data": {"name": "one"},
 "mark": {"type": "text", "fontSize": 9, "font": "Liberation Sans", "color": "#333333", "align": "center", "baseline": "middle"},
 "encoding": {"x": {"datum": "2016-12-14", "type": "ordinal"}, "y": {"datum": 96.30, "type": "quantitative"}, "text": {"value": "MA"}}},
{"data": {"name": "one"},
 "mark": {"type": "point", "shape": "M-0.9,-0.6L0.9,-0.6L0.9,0.6L-0.9,0.6Z", "filled": true, "size": 400, "fill": "#e53935", "opacity": 1, "strokeWidth": 0},
 "encoding": {"x": {"datum": "2016-12-14", "type": "ordinal"}, "y": {"datum": 96.04, "type": "quantitative"}}},
{"data": {"name": "one"},
 "mark": {"type": "text", "fontSize": 9, "font": "Liberation Sans", "color": "#ffffff", "align": "center", "baseline": "middle"},
 "encoding": {"x": {"datum": "2016-12-14", "type": "ordinal"}, "y": {"datum": 96.04, "type": "quantitative"}, "text": {"value": "EMA"}}}
]
},
{
"width": 932,
"height": 103,
"layer": [
{"data": {"name": "one"},
 "mark": {"type": "rect", "color": "#170a20"},
 "encoding": {"y": {"datum": 70, "type": "quantitative"}, "y2": {"datum": 30}}},
{"data": {"name": "rsi"},
 "mark": {"type": "line", "color": "#a23cc0", "strokeWidth": 1},
 "encoding": {
  "x": {"field": "date", "type": "ordinal",
   "scale": {"type": "band", "paddingInner": 0, "paddingOuter": 0, "domain": ["2016-01-27","2016-01-28","2016-01-29","2016-02-01","2016-02-02","2016-02-03","2016-02-04","2016-02-05","2016-02-08","2016-02-09","2016-02-10","2016-02-11","2016-02-12","2016-02-15","2016-02-16","2016-02-17","2016-02-18","2016-02-19","2016-02-22","2016-02-23","2016-02-24","2016-02-25","2016-02-26","2016-02-29","2016-03-01","2016-03-02","2016-03-03","2016-03-04","2016-03-07","2016-03-08","2016-03-09","2016-03-10","2016-03-11","2016-03-14","2016-03-15","2016-03-16","2016-03-17","2016-03-18","2016-03-21","2016-03-22","2016-03-23","2016-03-24","2016-03-25","2016-03-28","2016-03-29","2016-03-30","2016-03-31","2016-04-01","2016-04-04","2016-04-05","2016-04-06","2016-04-07","2016-04-08","2016-04-11","2016-04-12","2016-04-13","2016-04-14","2016-04-15","2016-04-18","2016-04-19","2016-04-20","2016-04-21","2016-04-22","2016-04-25","2016-04-26","2016-04-27","2016-04-28","2016-04-29","2016-05-02","2016-05-03","2016-05-04","2016-05-05","2016-05-06","2016-05-09","2016-05-10","2016-05-11","2016-05-12","2016-05-13","2016-05-16","2016-05-17","2016-05-18","2016-05-19","2016-05-20","2016-05-23","2016-05-24","2016-05-25","2016-05-26","2016-05-27","2016-05-30","2016-05-31","2016-06-01","2016-06-02","2016-06-03","2016-06-06","2016-06-07","2016-06-08","2016-06-09","2016-06-10","2016-06-13","2016-06-14","2016-06-15","2016-06-16","2016-06-17","2016-06-20","2016-06-21","2016-06-22","2016-06-23","2016-06-24","2016-06-27","2016-06-28","2016-06-29","2016-06-30","2016-07-01","2016-07-04","2016-07-05","2016-07-06","2016-07-07","2016-07-08","2016-07-11","2016-07-12","2016-07-13","2016-07-14","2016-07-15","2016-07-18","2016-07-19","2016-07-20","2016-07-21","2016-07-22","2016-07-25","2016-07-26","2016-07-27","2016-07-28","2016-07-29","2016-08-01","2016-08-02","2016-08-03","2016-08-04","2016-08-05","2016-08-08","2016-08-09","2016-08-10","2016-08-11","2016-08-12","2016-08-15","2016-08-16","2016-08-17","2016-08-18","2016-08-19","2016-08-22","2016-08-23","2016-08-24","2016-08-25","2016-08-26","2016-08-29","2016-08-30","2016-08-31","2016-09-01","2016-09-02","2016-09-05","2016-09-06","2016-09-07","2016-09-08","2016-09-09","2016-09-12","2016-09-13","2016-09-14","2016-09-15","2016-09-16","2016-09-19","2016-09-20","2016-09-21","2016-09-22","2016-09-23","2016-09-26","2016-09-27","2016-09-28","2016-09-29","2016-09-30","2016-10-03","2016-10-04","2016-10-05","2016-10-06","2016-10-07","2016-10-10","2016-10-11","2016-10-12","2016-10-13","2016-10-14","2016-10-17","2016-10-18","2016-10-19","2016-10-20","2016-10-21","2016-10-24","2016-10-25","2016-10-26","2016-10-27","2016-10-28","2016-10-31","2016-11-01","2016-11-02","2016-11-03","2016-11-04","2016-11-07","2016-11-08","2016-11-09","2016-11-10","2016-11-11","2016-11-14","2016-11-15","2016-11-16","2016-11-17","2016-11-18","2016-11-21","2016-11-22","2016-11-23","2016-11-24","2016-11-25","2016-11-28","2016-11-29","2016-11-30","2016-12-01","2016-12-02","2016-12-05","2016-12-06","2016-12-07","2016-12-08","2016-12-09","2016-12-12","2016-12-13","2016-12-14","2016-12-15","2016-12-16","2016-12-19","2016-12-20","2016-12-21","2016-12-22","2016-12-23","2016-12-26","2016-12-27","2016-12-28","2016-12-29"]},
   "axis": {"values": ["2016-02-01","2016-03-01","2016-04-01","2016-05-02","2016-06-01","2016-07-01","2016-08-01","2016-09-01","2016-10-03","2016-11-01","2016-12-01"], "labelExpr": "utcFormat(toDate(datum.value), '%b')", "orient": "bottom", "offset": -13, "labelAngle": 0, "labelColor": "#c8c8c8", "labelFontSize": 10, "labelFontWeight": "bold", "labelFont": "Liberation Sans", "labelPadding": 3, "ticks": false, "domainColor": "#555555", "grid": true, "gridColor": "#262626", "bandPosition": 0.5, "title": null}},
  "y": {"field": "rsi", "type": "quantitative",
   "scale": {"domain": [16, 78.7], "nice": false, "zero": false},
   "axis": {"orient": "right", "offset": -37, "values": [40, 60], "format": ".4f", "labelOverlap": false, "zindex": 1, "labelColor": "#bdbdbd", "labelFontSize": 8.5, "labelFont": "Liberation Sans", "labelPadding": 1, "tickColor": "#555555", "tickSize": 3, "domainColor": "#555555", "grid": true, "gridColor": "#2e2e2e", "title": null}}}},
{"data": {"name": "one"},
 "mark": {"type": "rule", "color": "#a8a8a8", "strokeDash": [2, 2], "strokeWidth": 1},
 "encoding": {"x": {"datum": "2016-01-27", "type": "ordinal"}, "x2": {"datum": "2016-12-15"}, "y": {"datum": 70, "type": "quantitative"}}},
{"data": {"name": "one"},
 "mark": {"type": "rule", "color": "#a8a8a8", "strokeDash": [2, 2], "strokeWidth": 1},
 "encoding": {"x": {"datum": "2016-01-27", "type": "ordinal"}, "x2": {"datum": "2016-12-15"}, "y": {"datum": 30, "type": "quantitative"}}},
{"data": {"name": "rsiLines"},
 "mark": {"type": "line", "color": "#c9c936", "strokeWidth": 1.5},
 "encoding": {"x": {"field": "date", "type": "ordinal"}, "y": {"field": "rsi", "type": "quantitative"}, "detail": {"field": "id", "type": "nominal"}}},
{"data": {"name": "one"},
 "mark": {"type": "text", "fontSize": 9.5, "font": "Liberation Sans", "color": "#cccccc", "align": "left", "baseline": "middle"},
 "encoding": {"x": {"datum": "2016-01-29", "type": "ordinal"}, "y": {"datum": 72.5, "type": "quantitative"}, "text": {"value": "RSI"}}},
{"data": {"name": "one"},
 "mark": {"type": "point", "shape": "M-0.75,-0.6L0.75,-0.6L0.75,0.6L-0.75,0.6Z", "filled": true, "size": 400, "fill": "#9c27b0", "opacity": 1, "strokeWidth": 0},
 "encoding": {"x": {"datum": "2016-12-14", "type": "ordinal"}, "y": {"datum": 62.3, "type": "quantitative"}}},
{"data": {"name": "one"},
 "mark": {"type": "text", "fontSize": 9, "font": "Liberation Sans", "color": "#ffffff", "align": "center", "baseline": "middle"},
 "encoding": {"x": {"datum": "2016-12-14", "type": "ordinal"}, "y": {"datum": 62.3, "type": "quantitative"}, "text": {"value": "RSI"}}}
]
}
],
"config": {
 "font": "Liberation Sans",
 "axis": {"labelOverlap": false},
 "view": {"stroke": "#404040", "fill": "#000000"}
}
}
